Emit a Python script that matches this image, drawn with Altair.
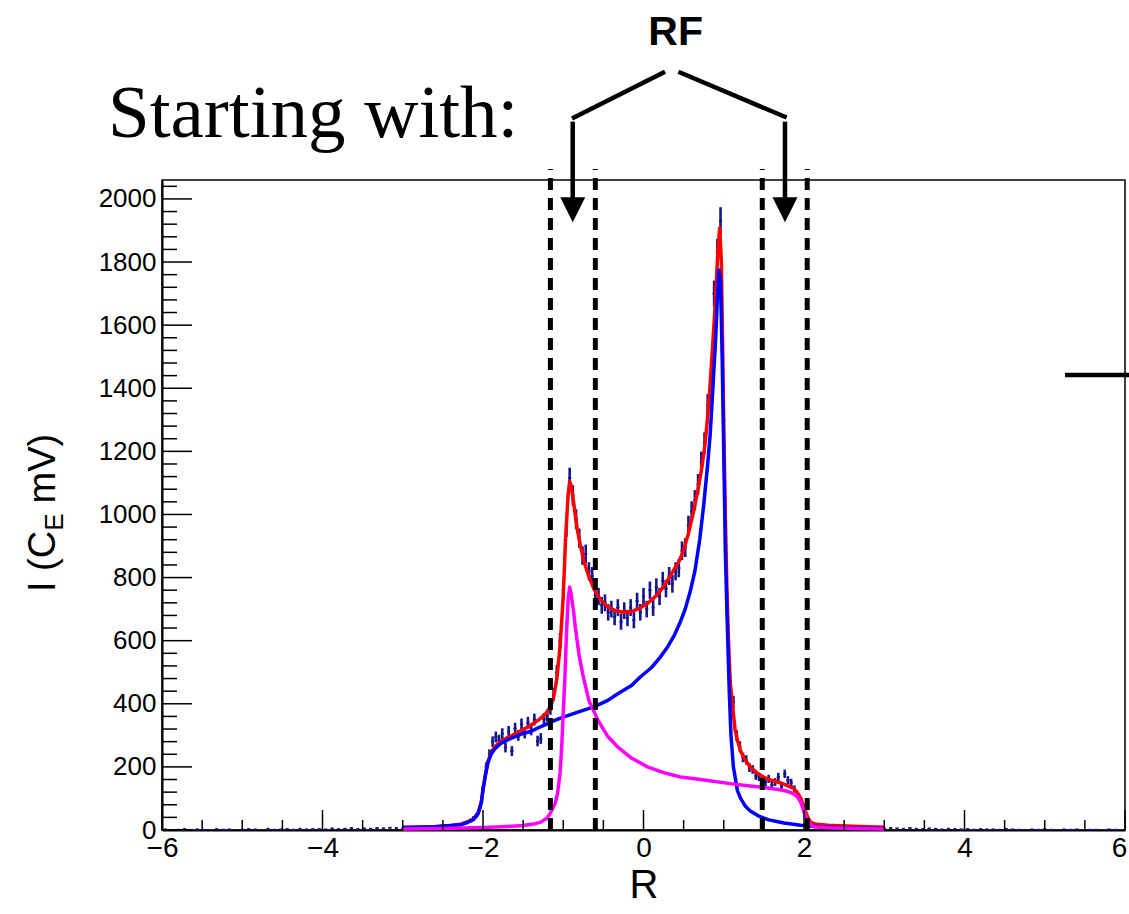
import altair as alt
import numpy as np
import pandas as pd

# ---------------- data ----------------
# measured histogram, central region: bin centres -2.48 ... 2.48, width 0.04
MAIN_START, MAIN_STEP = -2.48, 0.04
main_counts = [
    12, 10, 15, 14, 18, 16, 22, 25, 30, 38,
    45, 70, 130, 200, 240, 280, 295, 285, 305, 262,
    312, 250, 322, 300, 335, 308, 340, 318, 350, 282,
    290, 352, 362, 385, 430, 500, 600, 760, 960, 1115,
    1060, 985, 925, 870, 875, 820, 805, 745, 740, 712,
    720, 690, 700, 675, 705, 660, 695, 672, 705, 665,
    725, 690, 740, 700, 760, 705, 770, 740, 790, 765,
    805, 780, 820, 830, 885, 895, 965, 1010, 1045, 1095,
    1165, 1225, 1345, 1395, 1700, 1830, 1930, 1300, 700, 470,
    405, 300, 265, 230, 222, 198, 192, 172, 168, 158,
    152, 162, 143, 152, 168, 138, 178, 158, 150, 130,
    110, 95, 70, 40, 25, 20, 18, 15, 14, 12,
    12, 10, 10, 9, 8,
]
# tails (plotted every 0.08)
TAIL_STEP = 0.08
LEFT_TAIL_START = -5.96
left_tail_counts = [
    2, 0, 1, 3, 0, 2, 1, 0, 3, 1, 2, 0,
    1, 3, 2, 0, 4, 1, 2, 3, 1, 4, 2, 3,
    3, 2, 5, 3, 4, 6, 3, 5, 4, 6, 5, 7,
    6, 5, 8, 7, 9, 8, 10, 9,
]
RIGHT_TAIL_START = 2.52
right_tail_counts = [
    8, 9, 7, 8, 6, 7, 5, 6, 5, 4, 6, 4,
    3, 5, 4, 2, 4, 3, 2, 3, 1, 3, 2, 2,
    1, 3, 2, 1, 0, 2, 1, 3, 1, 0, 2, 1,
    2, 0, 1, 1, 0, 2, 1, 0,
]
BIN_HALF = 0.02

# total fit (red)
red_x = [-3.0, -2.6, -2.4, -2.28, -2.2, -2.12, -2.06, -2.02, -2.0, -1.97, -1.94, -1.9,
         -1.85, -1.78, -1.7, -1.6, -1.5, -1.4, -1.3, -1.22, -1.16, -1.12, -1.08, -1.04,
         -1.0, -0.97, -0.94, -0.92, -0.9, -0.87, -0.83, -0.79, -0.74, -0.69, -0.62, -0.55,
         -0.45, -0.35, -0.25, -0.15, -0.04, 0.05, 0.17, 0.26, 0.37, 0.45, 0.5, 0.56, 0.62,
         0.68, 0.73, 0.77, 0.8, 0.83, 0.86, 0.89, 0.91, 0.93, 0.95, 0.97, 0.985, 1.0, 1.02,
         1.04, 1.06, 1.08, 1.11, 1.14, 1.17, 1.21, 1.26, 1.33, 1.42, 1.5, 1.6, 1.71, 1.8,
         1.87, 1.92, 1.96, 1.99, 2.02, 2.05, 2.08, 2.15, 2.3, 2.6, 3.0]
red_y = [8, 10, 14, 18, 25, 35, 55, 90, 130, 175, 215, 245,
         265, 280, 292, 305, 318, 333, 350, 368, 390, 420, 480, 580,
         740, 930, 1060, 1105, 1090, 1036, 960, 905, 850, 810, 765, 735,
         708, 695, 690, 692, 704, 718, 745, 775, 821, 855, 887, 940, 1005,
         1080, 1154, 1230, 1312, 1410, 1528, 1650, 1750, 1850, 1908, 1800, 1550, 1280, 990,
         760, 593, 470, 393, 320, 285, 250, 225, 200, 180, 167, 157, 149, 140,
         132, 118, 100, 80, 58, 38, 25, 18, 15, 12, 9]

# main component (blue)
blue_x = [-3.0, -2.6, -2.4, -2.28, -2.2, -2.12, -2.06, -2.02, -2.0, -1.97, -1.94, -1.9,
          -1.85, -1.78, -1.7, -1.6, -1.5, -1.4, -1.3, -1.2, -1.1, -1.0, -0.8, -0.62,
          -0.45, -0.32, -0.15, -0.04, 0.1, 0.21, 0.3, 0.38, 0.46, 0.52, 0.58, 0.64,
          0.7, 0.75, 0.8, 0.83, 0.86, 0.9, 0.92, 0.94, 0.96, 0.98, 1.0, 1.02, 1.05, 1.07,
          1.09, 1.12, 1.17, 1.21, 1.27, 1.33, 1.43, 1.55, 1.75, 1.96, 2.2, 2.5, 3.0]
blue_y = [8, 10, 14, 17, 23, 33, 52, 88, 128, 173, 212, 240,
          258, 274, 285, 296, 306, 313, 325, 336, 348, 358, 375, 390,
          410, 432, 458, 485, 515, 548, 580, 615, 660, 700, 754, 820,
          919, 1030, 1160, 1250, 1380, 1560, 1680, 1775, 1740, 1500, 1200, 880, 600, 430,
          300, 200, 125, 100, 75, 60, 45, 33, 22, 15, 10, 7, 5]

# second component (magenta)
mag_x = [-3.0, -2.5, -2.0, -1.7, -1.5, -1.35, -1.28, -1.2, -1.16, -1.1, -1.07, -1.04,
         -1.02, -1.0, -0.98, -0.96, -0.94, -0.92, -0.9, -0.87, -0.85, -0.8, -0.75, -0.68,
         -0.57, -0.45, -0.32, -0.15, 0.05, 0.25, 0.46, 0.71, 1.08, 1.3, 1.55, 1.72,
         1.8, 1.86, 1.92, 1.96, 1.98, 2.01, 2.04, 2.08, 2.12, 2.3, 2.6, 3.0]
mag_y = [3, 5, 8, 11, 14, 20, 25, 38, 54, 85, 117, 180,
         260, 371, 480, 620, 729, 770, 745, 690, 643, 550, 485, 410,
         349, 298, 263, 228, 200, 182, 168, 160, 147, 140, 133, 127,
         122, 116, 105, 88, 73, 50, 32, 18, 10, 7, 5, 3]

rf_cut_positions = [-1.16, -0.60, 1.48, 2.04]

x_major_ticks = [-6, -4, -2, 0, 2, 4, 6]
x_minor_ticks = [-5.5, -5, -4.5, -3.5, -3, -2.5, -1.5, -1, -0.5, 0.5, 1, 1.5, 2.5, 3, 3.5, 4.5, 5, 5.5]
y_major_ticks = [0, 200, 400, 600, 800, 1000, 1200, 1400, 1600, 1800, 2000]
y_minor_ticks = [v for v in range(40, 2041, 40) if v % 200 != 0]

# ---------------- geometry ----------------
W, H = 963, 650
X_DOM = [-6, 6]
Y_DOM = [0, 2060]
px_per_x = W / (X_DOM[1] - X_DOM[0])
px_per_y = H / (Y_DOM[1] - Y_DOM[0])

FONT = "Liberation Sans"
NAVY = "#16168c"

xs = alt.Scale(domain=X_DOM, nice=False, zero=False)
ys = alt.Scale(domain=Y_DOM, nice=False, zero=False)
x_axis = alt.Axis(title="R", values=x_major_ticks, ticks=False, tickSize=0, grid=False,
                  labelFontSize=28, labelFont=FONT, labelColor="black", labelPadding=4,
                  labelOffset={"condition": {"test": "datum.value == 6", "value": -6}, "value": 0},
                  titleFontSize=40, titleFont=FONT, titleFontWeight="normal", titleColor="black",
                  titlePadding=3, domainColor="black", domainWidth=2, labelFlush=False)
y_axis = alt.Axis(title=None, values=y_major_ticks, format="d", ticks=False, tickSize=0, grid=False,
                  labelFontSize=26, labelFont=FONT, labelColor="black", labelPadding=6,
                  domainColor="black", domainWidth=2, labelFlush=False)


def X(field="x"):
    return alt.X(f"{field}:Q", scale=xs, axis=x_axis)


def Y(field="y"):
    return alt.Y(f"{field}:Q", scale=ys, axis=y_axis)


# ---------------- data frames ----------------
main_x = np.round(MAIN_START + MAIN_STEP * np.arange(len(main_counts)), 3)
lt_x = np.round(LEFT_TAIL_START + TAIL_STEP * np.arange(len(left_tail_counts)), 3)
rt_x = np.round(RIGHT_TAIL_START + TAIL_STEP * np.arange(len(right_tail_counts)), 3)
hx = np.concatenate([lt_x, main_x, rt_x])
hy = np.array(left_tail_counts + main_counts + right_tail_counts, dtype=float)
herr = np.sqrt(hy)
hist = pd.DataFrame({"x": hx, "y": hy, "ylo": hy - herr, "yhi": hy + herr,
                     "xl": hx - BIN_HALF, "xr": hx + BIN_HALF})
hist = hist[hist["y"] > 0]

err_bars = alt.Chart(hist).mark_rule(color=NAVY, strokeWidth=2.6).encode(
    x=X(), y=alt.Y("ylo:Q", scale=ys, axis=y_axis), y2="yhi:Q")
bin_lines = alt.Chart(hist).mark_rule(color=NAVY, strokeWidth=1.8).encode(
    x=alt.X("xl:Q", scale=xs, axis=x_axis), x2="xr:Q", y=Y())


def curve(xv, yv, color):
    df = pd.DataFrame({"x": xv, "y": yv})
    return alt.Chart(df).mark_line(color=color, strokeWidth=3.5, strokeJoin="round").encode(
        x=X(), y=Y(), order="x:Q")


red = curve(red_x, red_y, "#ff0000")
blue = curve(blue_x, blue_y, "#0000ff")
mag = curve(mag_x, mag_y, "#ff00ff")

cuts = alt.Chart(pd.DataFrame({"x": rf_cut_positions, "y": 0, "y2": 2095})).mark_rule(
    color="black", strokeWidth=5, strokeDash=[12, 8], clip=False).encode(
    x=X(), y=Y(), y2="y2:Q")

# inward ticks (ROOT style)
XT_MAJ = 20 / px_per_y
XT_MIN = 10 / px_per_y
YT_MAJ = 30 / px_per_x
YT_MIN = 15 / px_per_x
xt = pd.DataFrame({"x": x_major_ticks + x_minor_ticks,
                   "y": 0.0,
                   "y2": [XT_MAJ] * len(x_major_ticks) + [XT_MIN] * len(x_minor_ticks)})
yt = pd.DataFrame({"y": y_major_ticks + y_minor_ticks,
                   "x": -6.0,
                   "x2": [-6 + YT_MAJ] * len(y_major_ticks) + [-6 + YT_MIN] * len(y_minor_ticks)})
x_tick_marks = alt.Chart(xt).mark_rule(color="black", strokeWidth=1.5).encode(
    x=X(), y=Y(), y2="y2:Q")
y_tick_marks = alt.Chart(yt).mark_rule(color="black", strokeWidth=1.5).encode(
    x=X(), x2="x2:Q", y=Y())

# right-edge short line
edge = alt.Chart(pd.DataFrame({"x": [5.253], "x2": [6.06], "y": [1442]})).mark_rule(
    color="black", strokeWidth=4.5, clip=False).encode(x=X(), x2="x2:Q", y=Y())

# ---------------- annotations ----------------
starting = alt.Chart(pd.DataFrame({"x": [-6.673], "y": [2196], "t": ["Starting with:"]})).mark_text(
    font="Liberation Serif", fontSize=75, align="left", baseline="alphabetic", color="black",
    clip=False).encode(x=X(), y=Y(), text="t:N")

rf = alt.Chart(pd.DataFrame({"x": [0.40], "y": [2488], "t": ["RF"]})).mark_text(
    font=FONT, fontSize=41, fontWeight="bold", align="center", baseline="alphabetic",
    color="black", clip=False).encode(x=X(), y=Y(), text="t:N")

bracket = alt.Chart(pd.DataFrame({
    "x": [-0.891, 0.434], "y": [2255, 2403], "x2": [0.268, 1.784], "y2": [2403, 2258]})).mark_rule(
    color="black", strokeWidth=4.5, clip=False).encode(x=X(), y=Y(), x2="x2:Q", y2="y2:Q")

shafts = alt.Chart(pd.DataFrame({"x": [-0.882, 1.763], "y": [1990, 1990], "y2": [2245, 2245]})).mark_rule(
    color="black", strokeWidth=4.5, clip=False).encode(x=X(), y=Y(), y2="y2:Q")

heads = alt.Chart(pd.DataFrame({"x": [-0.882, 1.763], "y": [1966, 1966]})).mark_point(
    shape="M-1,-1L1,-1L0,1Z", size=625, filled=True, color="black", opacity=1,
    clip=False).encode(x=X(), y=Y())

# y-axis title  I (C_E mV)
ytitle_main = alt.Chart(pd.DataFrame({"x": [-7.333], "y": [948], "t": ["I (C"]})).mark_text(
    font=FONT, fontSize=38, angle=270, align="right", baseline="alphabetic", color="black",
    clip=False).encode(x=X(), y=Y(), text="t:N")
ytitle_sub = alt.Chart(pd.DataFrame({"x": [-7.234], "y": [948], "t": ["E"]})).mark_text(
    font=FONT, fontSize=26, angle=270, align="left", baseline="alphabetic", color="black",
    clip=False).encode(x=X(), y=Y(), text="t:N")
ytitle_rest = alt.Chart(pd.DataFrame({"x": [-7.333], "y": [1035], "t": ["mV)"]})).mark_text(
    font=FONT, fontSize=38, angle=270, align="left", baseline="alphabetic", color="black",
    clip=False).encode(x=X(), y=Y(), text="t:N")

chart = alt.layer(
    err_bars, bin_lines, red, blue, mag, cuts, x_tick_marks, y_tick_marks, edge,
    starting, rf, bracket, shafts, heads, ytitle_main, ytitle_sub, ytitle_rest,
).properties(
    width=W, height=H,
    background="white",
    padding={"left": 162, "top": 180, "right": 4, "bottom": 84},
    autosize=alt.AutoSizeParams(type="none"),
).configure_view(
    stroke="black", strokeWidth=1.5
)

chart.save("out.html", embed_options={"renderer": "svg", "actions": False})
